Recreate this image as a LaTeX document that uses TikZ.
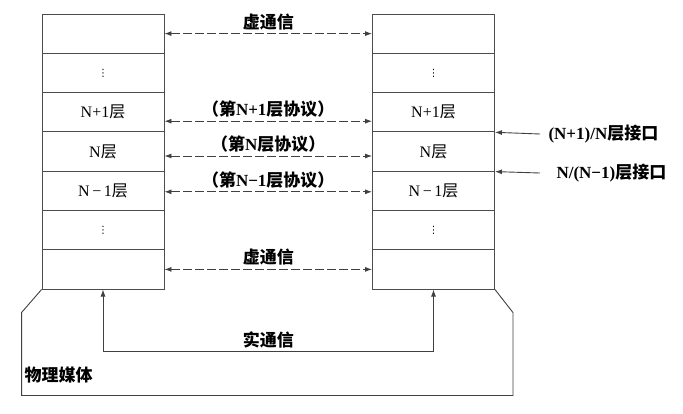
\documentclass[tikz,border=0pt]{standalone}
\usepackage{fontspec}
\setmainfont{Liberation Serif}
\newfontfamily\cjk{Noto Sans CJK SC}
\newfontfamily\symb{DejaVu Sans}
\newcommand{\zh}[1]{{\cjk #1}}
\newcommand{\vdotsym}{{\symb\fontsize{10}{10}\selectfont ⋮}}
\usepackage{tikz}
\usetikzlibrary{arrows.meta}

\begin{document}
\begin{tikzpicture}[x=1pt, y=-1pt,
        layer/.style={rectangle, draw=black!70, line width=0.9pt, minimum width=122pt, minimum height=39.3pt, inner sep=0pt, font=\fontsize{16}{18}\selectfont},
        lbl/.style={font=\fontsize{17}{19}\selectfont\bfseries},
        virtual/.style={draw=black!75, line width=0.9pt, dash pattern=on 9pt off 3pt, {Latex[length=7pt,width=5pt]}-{Latex[length=7pt,width=5pt]}},
        real/.style={draw=black!75, line width=0.9pt, {Latex[length=7pt,width=5pt]}-{Latex[length=7pt,width=5pt]}},
        iface/.style={draw=black!75, line width=0.9pt, -{Latex[length=7pt,width=5pt]}},
        medium/.style={draw=black!75, line width=0.9pt}
    ]
        \useasboundingbox (0,0) rectangle (683,413);

        % Left stack
        \node [layer] (l1) at (103, 33.6) {};
        \node [layer] (l2) at (103, 72.9) {\vdotsym};
        \node [layer] (l3) at (103, 112.2) {N+1\zh{层}};
        \node [layer] (l4) at (103, 151.5) {N\zh{层}};
        \node [layer] (l5) at (103, 190.8) {N\,−\,1\zh{层}};
        \node [layer] (l6) at (103, 230.1) {\vdotsym};
        \node [layer] (l7) at (103, 269.4) {};

        % Right stack
        \node [layer] (r1) at (433.5, 33.6) {};
        \node [layer] (r2) at (433.5, 72.9) {\vdotsym};
        \node [layer] (r3) at (433.5, 112.2) {N+1\zh{层}};
        \node [layer] (r4) at (433.5, 151.5) {N\zh{层}};
        \node [layer] (r5) at (433.5, 190.8) {N\,−\,1\zh{层}};
        \node [layer] (r6) at (433.5, 230.1) {\vdotsym};
        \node [layer] (r7) at (433.5, 269.4) {};

        % Interface labels
        \node [lbl, anchor=west] (ifup) at (545, 134) {(N+1)/N\zh{层接口}};
        \node [lbl, anchor=west] (ifdown) at (553, 173) {N/(N−1)\zh{层接口}};
        \node [lbl, anchor=west] (medlbl) at (21, 375) {\zh{物理媒体}};

        % Peer protocols
        \path [virtual] (l1.east) -- node[above, lbl] {\zh{虚通信}} (r1.west);
        \path [virtual] ([yshift=-9pt]l3.east) -- node[above, lbl] {\zh{（第}N+1\zh{层协议）}} ([yshift=-9pt]r3.west);
        \path [virtual] ([yshift=-4.5pt]l4.east) -- node[above, lbl] {\zh{（第}N\zh{层协议）}} ([yshift=-4.5pt]r4.west);
        \path [virtual] ([yshift=-1pt]l5.east) -- node[above, lbl] {\zh{（第}N−1\zh{层协议）}} ([yshift=-1pt]r5.west);
        \path [virtual] (l7.east) -- node[above, lbl] {\zh{虚通信}} (r7.west);

        % Interfaces
        \path [iface] ([xshift=-5pt]ifup.west) -- (r3.south east);
        \path [iface] ([xshift=-13pt]ifdown.west) -- (r4.south east);

        % Real communication and physical medium
        \path [real] (l7.south) -- ++(0,62) -| node[pos=0.25, above, lbl] {\zh{实通信}} (r7.south);
        \path [medium] (l7.south west) -- ++(-20,23) -- ++(0,83) -| ([xshift=18pt, yshift=-23pt]r7.south east) -- (r7.south east);

    \end{tikzpicture}
\end{document}
